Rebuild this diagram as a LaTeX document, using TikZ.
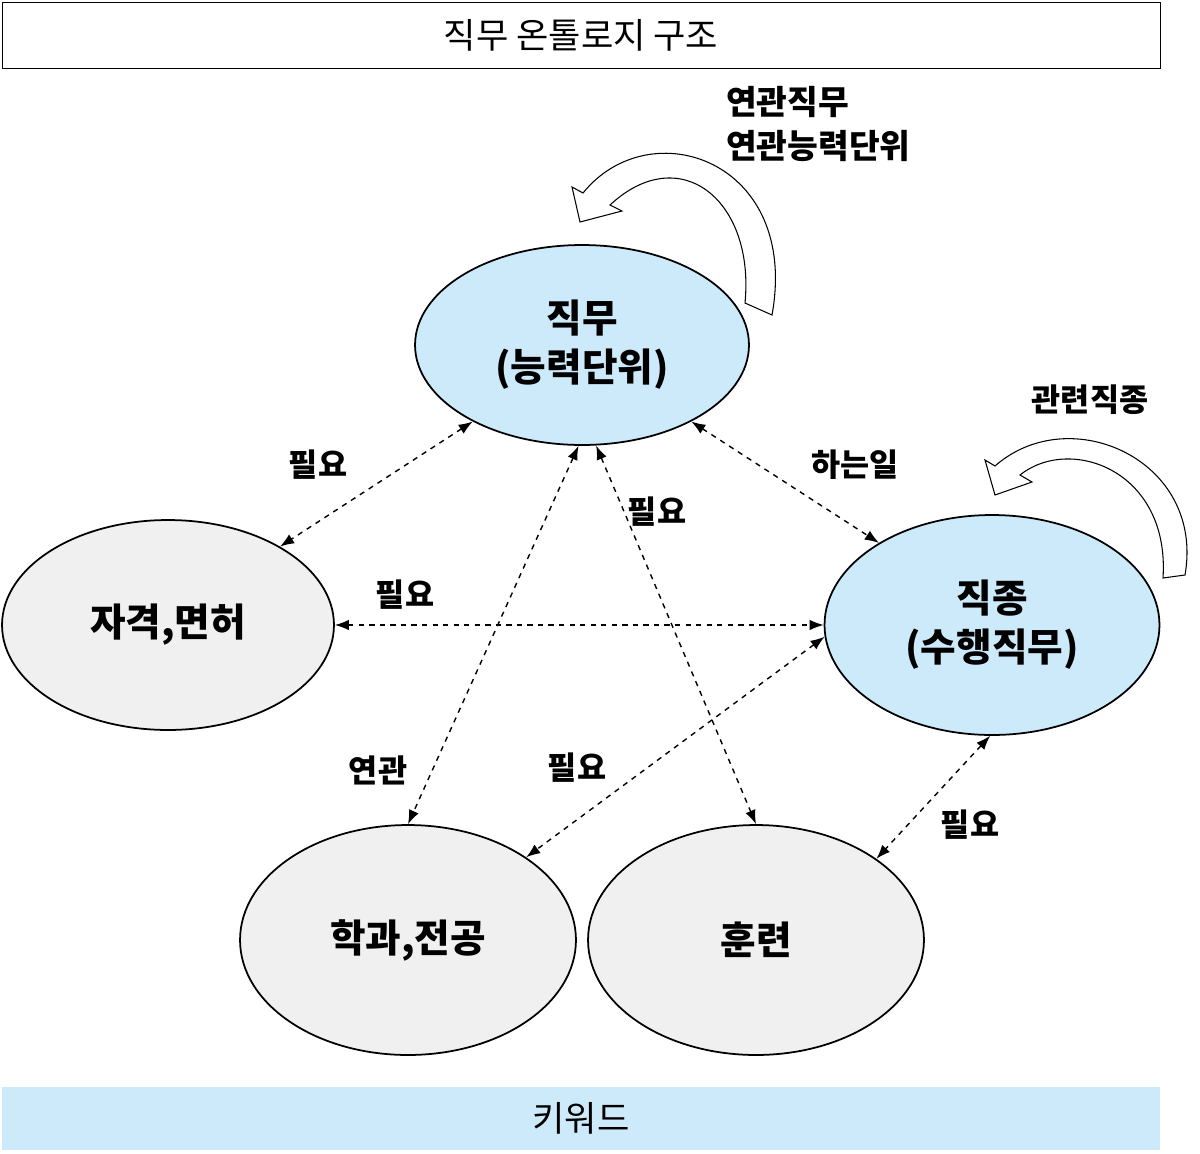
\documentclass[tikz,border=0pt]{standalone}
\usepackage{fontspec}
\setmainfont{Noto Sans CJK KR}
\usetikzlibrary{shapes.geometric,arrows.meta}
\definecolor{lightblue}{RGB}{205,234,250}
\definecolor{lightgray}{RGB}{240,240,240}
\begin{document}
\begin{tikzpicture}[x=0.02cm,y=-0.02cm,font=\bfseries,
	elli/.style={draw,ellipse,line width=1pt,inner sep=0pt,font=\fontsize{22}{28}\selectfont\bfseries,align=center},
	rel/.style={dashed,line width=0.8pt,{Latex[length=8pt,width=6pt]}-{Latex[length=8pt,width=6pt]}},
	lbl/.style={font=\fontsize{18}{23}\selectfont\bfseries},
	loop/.style={draw,fill=white,line width=0.6pt}]
	\useasboundingbox (0,0) rectangle (1200,1153);
	%boxes
	\node[draw,minimum width=23.16cm,minimum height=1.32cm,font=\fontsize{20}{24}\selectfont] (title) at (581,35) {직무 온톨로지 구조};
	\node[fill=lightblue,minimum width=23.16cm,minimum height=1.26cm,font=\fontsize{20}{24}\selectfont] (key) at (581,1118) {키워드};

	%ellipses
	\node[elli,fill=lightblue,minimum width=6.68cm,minimum height=4cm] (job) at (582,345) {직무\\(능력단위)};
	\node[elli,fill=lightgray,minimum width=6.64cm,minimum height=4.2cm] (lic) at (168,625) {자격,면허};
	\node[elli,fill=lightblue,minimum width=6.7cm,minimum height=4.4cm] (occ) at (992,625) {직종\\(수행직무)};
	\node[elli,fill=lightgray,minimum width=6.72cm,minimum height=4.6cm] (major) at (408,940) {학과,전공};
	\node[elli,fill=lightgray,minimum width=6.72cm,minimum height=4.6cm] (train) at (756,940) {훈련};

	%relations
	\draw[rel] (job.215) -- (lic.35);
	\draw[rel] (job.-35) -- (occ.144);
	\draw[rel] (lic.0) -- (occ.180);
	\draw[rel] (job.-92) -- (major.90);
	\draw[rel] (job.-82) -- (train.90);
	\draw[rel] (occ.184) -- (major.35);
	\draw[rel] (occ.-91) -- (train.34);

	%labels
	\node[lbl] (l1) at (318,465) {필요};
	\node[lbl] (l2) at (855,465) {하는일};
	\node[lbl] (l3) at (405,595) {필요};
	\node[lbl] (l4) at (378,770) {연관};
	\node[lbl] (l5) at (657,512) {필요};
	\node[lbl] (l6) at (577,768) {필요};
	\node[lbl] (l7) at (970,825) {필요};

	%self loops
	\path[loop] (745,303) .. controls (755,200) and (680,140) .. (610,205) -- (622,211) -- (580,222) -- (572,187) -- (583,193) .. controls (650,110) and (800,160) .. (772,315) -- cycle;
	\path[loop] (1163,578) .. controls (1170,470) and (1070,435) .. (1020,475) -- (1032,482) -- (995,495) -- (985,460) -- (995,466) .. controls (1070,400) and (1205,460) .. (1185,575) -- cycle;
	\node[lbl,anchor=west,align=left,font=\fontsize{19}{25}\selectfont\bfseries] (jobloop) at (720,124) {연관직무\\연관능력단위};
	\node[lbl] (occloop) at (1090,400) {관련직종};
\end{tikzpicture}
\end{document}
